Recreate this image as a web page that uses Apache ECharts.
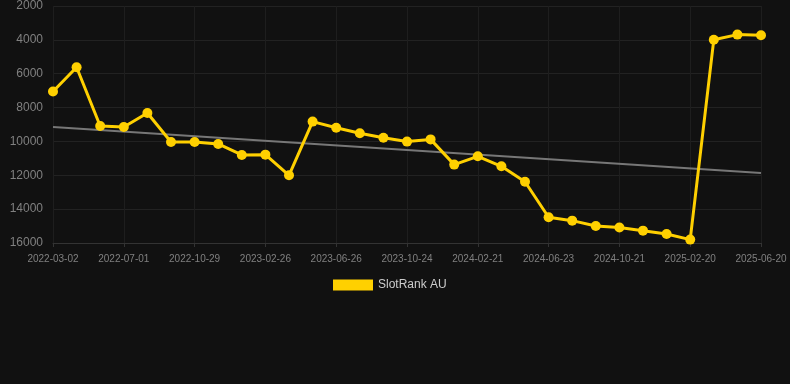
<!DOCTYPE html>
<html>
<head>
<meta charset="utf-8">
<script src="https://cdn.jsdelivr.net/npm/echarts@6/dist/echarts.min.js"></script>
<style>
  html, body { margin: 0; padding: 0; background: #111111; }
  #chart { width: 790px; height: 384px; }
</style>
</head>
<body>
<div id="chart"></div>
<script>
var dates = [
    '2022-03-02', '2022-04-11', '2022-05-21', '2022-07-01', '2022-08-10', '2022-09-19',
    '2022-10-29', '2022-12-08', '2023-01-17', '2023-02-26', '2023-04-07', '2023-05-17',
    '2023-06-26', '2023-08-05', '2023-09-14', '2023-10-24', '2023-12-03', '2024-01-12',
    '2024-02-21', '2024-04-01', '2024-05-12', '2024-06-23', '2024-08-01', '2024-09-10',
    '2024-10-21', '2024-11-30', '2025-01-10', '2025-02-20', '2025-03-31', '2025-05-10',
    '2025-06-20'
];
var rankAU = [
    7050, 5620, 9090, 9150, 8320, 10030, 10030, 10150, 10800, 10780, 12000, 8830,
    9190, 9520, 9780, 10010, 9880, 11370, 10880, 11470, 12380, 14480, 14680, 15000,
    15080, 15270, 15470, 15800, 3990, 3690, 3730
];
// trend line read at first and last date
var trendValues = [9150, 11870];

var myChart = echarts.init(document.getElementById('chart'), null, { renderer: 'canvas' });

var option = {
    backgroundColor: '#111111',
    animation: false,
    grid: { left: 53, right: 29, top: 6, bottom: 141 },
    legend: {
        data: ['SlotRank AU'],
        top: 274,
        left: 328,
        itemWidth: 40,
        itemHeight: 11,
        itemGap: 6,
        icon: 'rect',
        textStyle: { color: '#cccccc', fontSize: 12, fontFamily: 'Arial, Liberation Sans, sans-serif' }
    },
    xAxis: {
        type: 'category',
        data: dates,
        boundaryGap: false,
        axisLine: { lineStyle: { color: '#333333' } },
        axisTick: { show: true, interval: 2, length: 4, lineStyle: { color: '#333333' } },
        axisLabel: {
            interval: 2,
            color: '#808080',
            fontSize: 10,
            fontFamily: 'Arial, Liberation Sans, sans-serif',
            margin: 11
        },
        splitLine: { show: true, interval: 2, lineStyle: { color: '#1e1e1e' } }
    },
    yAxis: {
        type: 'value',
        inverse: true,
        min: 2000,
        max: 16000,
        interval: 2000,
        axisLine: { show: false },
        axisTick: { show: false },
        axisLabel: {
            color: '#808080',
            fontSize: 12,
            fontFamily: 'Arial, Liberation Sans, sans-serif',
            margin: 10,
            formatter: function (v) { return String(v); }
        },
        splitLine: { lineStyle: { color: '#222222' } }
    },
    series: [
        {
            name: 'Trend',
            type: 'line',
            data: [[0, trendValues[0]], [dates.length - 1, trendValues[1]]],
            symbol: 'none',
            lineStyle: { color: '#777777', width: 2 },
            z: 1
        },
        {
            name: 'SlotRank AU',
            type: 'line',
            data: rankAU,
            symbol: 'circle',
            symbolSize: 10,
            itemStyle: { color: '#ffd000' },
            lineStyle: { color: '#ffd000', width: 3 },
            z: 2
        }
    ]
};

myChart.setOption(option);
window.addEventListener('resize', myChart.resize);
</script>
</body>
</html>
